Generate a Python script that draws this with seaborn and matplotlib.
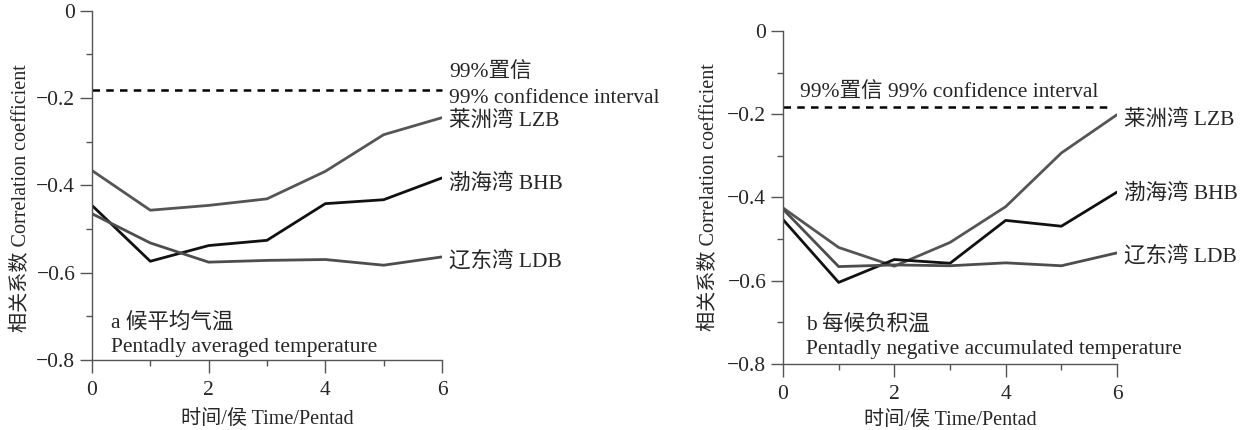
import numpy as np
import pandas as pd
import matplotlib
matplotlib.use("Agg")
import matplotlib.pyplot as plt
import seaborn as sns
from matplotlib.ticker import MultipleLocator, FixedLocator

# ---- data ----
pentads = [0, 1, 2, 3, 4, 5, 6]
bays = ["莱洲湾 LZB", "渤海湾 BHB", "辽东湾 LDB"]

# panel a: pentadly averaged temperature
a_lzb = [-0.366, -0.457, -0.446, -0.431, -0.368, -0.284, -0.245]
a_bhb = [-0.446, -0.574, -0.538, -0.526, -0.442, -0.433, -0.383]
a_ldb = [-0.465, -0.532, -0.576, -0.572, -0.570, -0.583, -0.564]

# panel b: pentadly negative accumulated temperature
b_lzb = [-0.425, -0.520, -0.565, -0.508, -0.422, -0.293, -0.201]
b_bhb = [-0.453, -0.604, -0.549, -0.558, -0.455, -0.469, -0.387]
b_ldb = [-0.428, -0.566, -0.562, -0.564, -0.557, -0.564, -0.533]

conf99 = -0.182
conf_a_end = 6.0
conf_b_end = 5.9

sns.set_style("ticks")
FAM = ["Liberation Serif", "Noto Sans CJK SC", "DejaVu Sans"]
plt.rcParams["font.family"] = FAM
plt.rcParams["axes.unicode_minus"] = True
FS = 15.5
FS_LAB = 14.5

palette = {bays[0]: "#555555", bays[1]: "#111111", bays[2]: "#4d4d4d"}


def make_df(lzb, bhb, ldb):
    rows = []
    for name, vals in zip(bays, [lzb, bhb, ldb]):
        for p, v in zip(pentads, vals):
            rows.append({"pentad": p, "r": v, "bay": name})
    return pd.DataFrame(rows)


fig = plt.figure(figsize=(12.46, 4.30), dpi=100)
ax_a = fig.add_axes([0.0738, 0.163, 0.2809, 0.812])
ax_b = fig.add_axes([0.6284, 0.1535, 0.2681, 0.7744])


def style_axis(ax, ylab_xy, xlab_y):
    ax.set_xlim(0, 6)
    ax.set_ylim(-0.8, 0)
    sns.despine(ax=ax)
    for s in ["left", "bottom"]:
        ax.spines[s].set_color("#555555")
        ax.spines[s].set_linewidth(1.0)
    ax.xaxis.set_major_locator(FixedLocator([0, 2, 4, 6]))
    ax.xaxis.set_minor_locator(FixedLocator([1, 3, 5]))
    ax.yaxis.set_major_locator(MultipleLocator(0.2))
    ax.yaxis.set_minor_locator(MultipleLocator(0.1))
    ax.tick_params(which="major", length=9, width=1, color="#555555",
                   labelsize=FS, pad=3)
    ax.tick_params(axis="x", which="major", pad=6)
    ax.tick_params(which="minor", length=4, width=1, color="#555555")
    ax.set_xticklabels(["0", "2", "4", "6"])
    ax.set_yticks([0, -0.2, -0.4, -0.6, -0.8])
    ax.set_yticklabels(["0", "\u22120.2", "\u22120.4", "\u22120.6", "\u22120.8"])
    ax.set_xlabel("时间/侯 Time/Pentad", fontsize=FS_LAB)
    ax.xaxis.set_label_coords(0.5, xlab_y)
    ax.set_ylabel("相关系数 Correlation coefficient", fontsize=FS_LAB)
    ax.yaxis.set_label_coords(*ylab_xy)


# label coords (axes fraction)
for ax, (lzb, bhb, ldb), conf_end, ylxy, xly in [
    (ax_a, (a_lzb, a_bhb, a_ldb), conf_a_end, (-0.175, 0.464), -0.144),
    (ax_b, (b_lzb, b_bhb, b_ldb), conf_b_end, (-0.19, 0.5), -0.141),
]:
    df = make_df(lzb, bhb, ldb)
    sns.lineplot(data=df, x="pentad", y="r", hue="bay", palette=palette,
                 linewidth=2.0, legend=False, ax=ax)
    ax.plot([0, conf_end], [conf99, conf99], color="black", linestyle=(0, (3, 2.5)),
            linewidth=1.8, clip_on=False)
    style_axis(ax, ylxy, xly)

# series labels
lab_a = {bays[0]: -0.252, bays[1]: -0.396, bays[2]: -0.574}
lab_b = {bays[0]: -0.214, bays[1]: -0.390, bays[2]: -0.541}
for ax, labs in [(ax_a, lab_a), (ax_b, lab_b)]:
    for name, yv in labs.items():
        ax.annotate(name, xy=(6, yv), xytext=(5, 0), textcoords="offset points",
                    va="center", ha="left", fontsize=FS, annotation_clip=False)

# confidence labels
ax_a.annotate("99%置信", xy=(6, -0.142), xytext=(5, 0), textcoords="offset points",
              va="center", ha="left", fontsize=FS, annotation_clip=False)
ax_a.annotate("99% confidence interval", xy=(6, -0.200), xytext=(5, 0),
              textcoords="offset points", va="center", ha="left", fontsize=FS,
              annotation_clip=False)
ax_b.text(0.3, -0.149, "99%置信 99% confidence interval", va="center", ha="left",
          fontsize=FS)

# panel titles
ax_a.text(0.054, -0.714, "a 候平均气温", transform=ax_a.get_yaxis_transform(),
          va="center", ha="left", fontsize=FS)
ax_a.text(0.054, -0.771, "Pentadly averaged temperature",
          transform=ax_a.get_yaxis_transform(), va="center", ha="left", fontsize=FS)
ax_b.text(0.069, -0.704, "b 每候负积温", transform=ax_b.get_yaxis_transform(),
          va="center", ha="left", fontsize=FS)
ax_b.text(0.069, -0.764, "Pentadly negative accumulated temperature",
          transform=ax_b.get_yaxis_transform(), va="center", ha="left", fontsize=FS)

fig.savefig("out.png", dpi=100, facecolor="white")
